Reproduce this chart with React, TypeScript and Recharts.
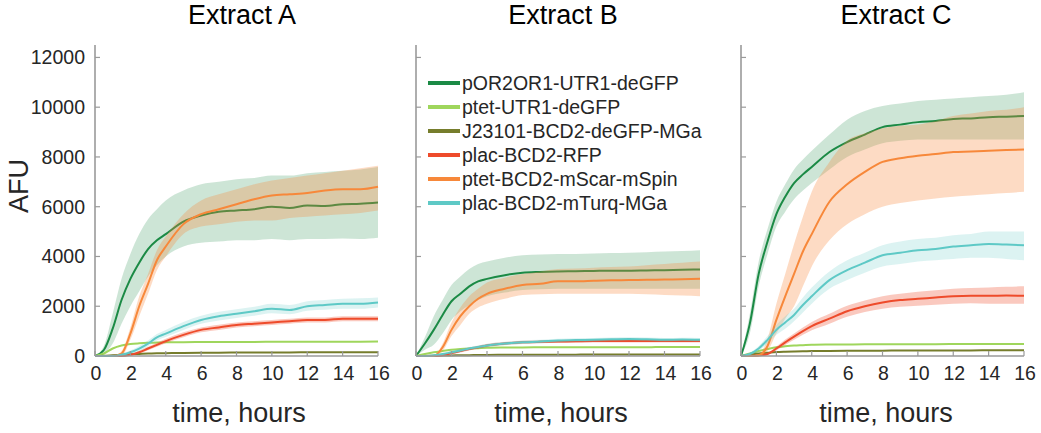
import React from 'react';
import { ComposedChart, Line, Area, XAxis, YAxis } from 'recharts';

const TIME = [0, 0.5, 1, 1.5, 2, 2.5, 3, 3.5, 4, 5, 6, 7, 8, 9, 10, 11, 12, 13, 14, 15, 16];
const X_TICKS = [0, 2, 4, 6, 8, 10, 12, 14, 16];
const Y_TICKS = [0, 2000, 4000, 6000, 8000, 10000, 12000];
const PANEL_TITLES = ['Extract A', 'Extract B', 'Extract C'];
const SERIES_NAMES = [
  'pOR2OR1-UTR1-deGFP',
  'ptet-UTR1-deGFP',
  'J23101-BCD2-deGFP-MGa',
  'plac-BCD2-RFP',
  'ptet-BCD2-mScar-mSpin',
  'plac-BCD2-mTurq-MGa',
];

// ---------- Extract A ----------
const A_POR = [0, 240, 1100, 2250, 3100, 3750, 4300, 4650, 4900, 5400, 5650, 5800, 5850, 5900, 6000, 5950, 6050, 6030, 6100, 6120, 6170];
const A_POR_LO = [0, 100, 500, 1300, 2000, 2600, 3200, 3650, 4000, 4400, 4550, 4600, 4650, 4650, 4700, 4650, 4700, 4700, 4720, 4700, 4750];
const A_POR_HI = [0, 400, 1700, 3100, 4100, 4900, 5500, 5900, 6250, 6650, 6900, 7000, 7100, 7150, 7250, 7250, 7350, 7400, 7450, 7500, 7600];
const A_PTET = [0, 100, 300, 420, 480, 510, 530, 540, 550, 555, 560, 560, 565, 565, 570, 570, 570, 575, 575, 575, 580];
const A_J231 = [0, 10, 30, 50, 70, 85, 100, 110, 115, 125, 130, 135, 140, 140, 145, 145, 150, 150, 150, 150, 150];
const A_RFP = [0, 0, 0, 0, 50, 150, 300, 450, 600, 850, 1050, 1150, 1250, 1300, 1350, 1400, 1450, 1450, 1500, 1500, 1500];
const A_RFP_LO = [0, 0, 0, 0, 20, 100, 230, 370, 510, 750, 950, 1050, 1150, 1200, 1250, 1300, 1350, 1350, 1400, 1400, 1400];
const A_RFP_HI = [0, 0, 0, 30, 90, 210, 370, 530, 690, 950, 1150, 1260, 1350, 1400, 1450, 1500, 1550, 1550, 1600, 1600, 1600];
const A_SCAR = [0, 0, 0, 100, 900, 2000, 2900, 3850, 4400, 5300, 5700, 5900, 6100, 6300, 6450, 6500, 6550, 6650, 6700, 6700, 6800];
const A_SCAR_LO = [0, 0, 0, 0, 650, 1600, 2500, 3450, 4000, 4900, 5200, 5300, 5400, 5450, 5450, 5550, 5600, 5650, 5700, 5750, 5850];
const A_SCAR_HI = [0, 0, 0, 200, 1150, 2400, 3300, 4250, 4800, 5700, 6250, 6500, 6700, 6900, 7050, 7150, 7250, 7350, 7450, 7550, 7650];
const A_TURQ = [0, 0, 0, 50, 150, 300, 500, 750, 900, 1200, 1450, 1600, 1700, 1800, 1900, 1850, 2000, 2050, 2100, 2100, 2150];
const A_TURQ_LO = [0, 0, 0, 0, 80, 200, 380, 620, 760, 1050, 1300, 1430, 1530, 1620, 1720, 1680, 1820, 1860, 1900, 1900, 1950];
const A_TURQ_HI = [0, 0, 0, 100, 220, 400, 620, 880, 1050, 1370, 1620, 1780, 1880, 1980, 2100, 2050, 2200, 2250, 2300, 2320, 2350];

// ---------- Extract B ----------
const B_POR = [0, 500, 1050, 1650, 2200, 2500, 2800, 3000, 3100, 3250, 3350, 3380, 3400, 3410, 3420, 3430, 3430, 3440, 3450, 3470, 3480];
const B_POR_LO = [0, 250, 450, 900, 1450, 1800, 2050, 2250, 2400, 2550, 2650, 2680, 2700, 2700, 2700, 2700, 2700, 2700, 2700, 2700, 2700];
const B_POR_HI = [0, 750, 1600, 2250, 2850, 3200, 3500, 3700, 3800, 3950, 4050, 4080, 4100, 4100, 4120, 4140, 4150, 4170, 4200, 4220, 4250];
const B_PTET = [0, 80, 150, 200, 250, 280, 300, 315, 330, 340, 345, 350, 350, 350, 355, 355, 355, 355, 360, 360, 360];
const B_J231 = [0, 5, 10, 20, 25, 30, 35, 40, 45, 50, 50, 55, 55, 55, 60, 60, 60, 60, 65, 65, 65];
const B_RFP = [0, 0, 0, 30, 120, 200, 280, 350, 420, 500, 550, 570, 580, 590, 600, 600, 600, 600, 600, 600, 600];
const B_RFP_LO = [0, 0, 0, 0, 70, 140, 220, 290, 360, 440, 490, 510, 520, 530, 540, 540, 540, 540, 540, 540, 540];
const B_RFP_HI = [0, 0, 0, 60, 170, 260, 340, 410, 480, 560, 610, 630, 640, 650, 660, 660, 660, 660, 660, 660, 660];
const B_SCAR = [0, 0, 0, 350, 1050, 1600, 2000, 2300, 2500, 2700, 2850, 2900, 3000, 3000, 3020, 3040, 3050, 3060, 3070, 3080, 3100];
const B_SCAR_LO = [0, 0, 0, 200, 800, 1250, 1700, 1950, 2100, 2300, 2450, 2480, 2500, 2500, 2500, 2500, 2500, 2480, 2450, 2430, 2400];
const B_SCAR_HI = [0, 0, 0, 500, 1350, 1950, 2400, 2700, 2950, 3150, 3300, 3400, 3500, 3520, 3550, 3580, 3600, 3650, 3700, 3750, 3800];
const B_TURQ = [0, 0, 30, 80, 150, 220, 300, 360, 420, 500, 550, 580, 620, 640, 650, 670, 680, 670, 650, 660, 650];
const B_TURQ_LO = [0, 0, 0, 30, 90, 160, 240, 300, 350, 430, 480, 510, 550, 570, 580, 600, 610, 600, 580, 590, 580];
const B_TURQ_HI = [0, 0, 60, 130, 210, 280, 360, 420, 490, 570, 620, 650, 690, 710, 720, 740, 750, 740, 720, 730, 720];

// ---------- Extract C ----------
const C_POR = [0, 1300, 3300, 4600, 5700, 6400, 6950, 7300, 7600, 8200, 8600, 8900, 9200, 9300, 9400, 9450, 9530, 9550, 9600, 9620, 9650];
const C_POR_LO = [0, 900, 2800, 4100, 5200, 5800, 6300, 6650, 6950, 7500, 8000, 8300, 8550, 8650, 8700, 8700, 8700, 8700, 8700, 8700, 8700];
const C_POR_HI = [0, 1700, 3800, 5100, 6200, 6900, 7500, 7900, 8250, 8900, 9500, 9850, 10050, 10150, 10250, 10300, 10350, 10400, 10450, 10500, 10600];
const C_PTET = [0, 100, 200, 280, 350, 390, 420, 435, 450, 460, 465, 470, 470, 475, 475, 475, 478, 478, 480, 480, 480];
const C_J231 = [0, 50, 100, 130, 160, 175, 185, 190, 200, 205, 210, 215, 215, 220, 220, 225, 225, 225, 230, 230, 230];
const C_RFP = [0, 0, 20, 80, 300, 550, 780, 1000, 1200, 1500, 1800, 2000, 2150, 2250, 2300, 2350, 2400, 2420, 2420, 2430, 2420];
const C_RFP_LO = [0, 0, 0, 40, 220, 440, 650, 850, 1030, 1300, 1580, 1770, 1900, 1980, 2020, 2060, 2100, 2120, 2100, 2100, 2100];
const C_RFP_HI = [0, 0, 40, 120, 380, 660, 900, 1150, 1370, 1700, 2020, 2230, 2400, 2500, 2580, 2640, 2700, 2730, 2750, 2780, 2800];
const C_SCAR = [0, 0, 30, 400, 1450, 2400, 3300, 4200, 4900, 6200, 6900, 7400, 7800, 7950, 8050, 8120, 8200, 8220, 8250, 8280, 8300];
const C_SCAR_LO = [0, 0, 0, 200, 900, 1500, 2000, 2800, 3600, 4650, 5300, 5700, 6000, 6150, 6250, 6330, 6400, 6450, 6500, 6550, 6600];
const C_SCAR_HI = [0, 0, 60, 700, 2100, 3300, 4500, 5600, 6600, 7800, 8650, 8950, 9150, 9250, 9300, 9450, 9650, 9750, 9850, 9900, 10000];
const C_TURQ = [0, 80, 300, 650, 1050, 1350, 1650, 2050, 2400, 3050, 3450, 3750, 4050, 4150, 4250, 4300, 4400, 4450, 4500, 4480, 4450];
const C_TURQ_LO = [0, 30, 200, 500, 850, 1100, 1400, 1750, 2100, 2700, 3050, 3350, 3600, 3700, 3800, 3850, 3900, 3950, 3950, 3900, 3850];
const C_TURQ_HI = [0, 130, 400, 800, 1250, 1600, 1900, 2350, 2750, 3400, 3850, 4150, 4450, 4600, 4700, 4750, 4850, 4900, 5000, 5000, 5000];

const COLORS = ['#1b8a45', '#9fd65c', '#767d2c', '#ee4b2b', '#f7883a', '#5ec9c6'];
const KEYS = ['por', 'ptet', 'j231', 'rfp', 'scar', 'turq'];
const BAND_OPACITY = [0.22, 0, 0, 0.3, 0.3, 0.22];

type Arr = number[];
function buildRows(
  por: Arr, porLo: Arr, porHi: Arr, ptet: Arr, j231: Arr,
  rfp: Arr, rfpLo: Arr, rfpHi: Arr, scar: Arr, scarLo: Arr, scarHi: Arr,
  turq: Arr, turqLo: Arr, turqHi: Arr
) {
  return TIME.map((t, i) => ({
    t,
    por: por[i], porBand: [porLo[i], porHi[i]],
    ptet: ptet[i],
    j231: j231[i],
    rfp: rfp[i], rfpBand: [rfpLo[i], rfpHi[i]],
    scar: scar[i], scarBand: [scarLo[i], scarHi[i]],
    turq: turq[i], turqBand: [turqLo[i], turqHi[i]],
  }));
}

const DATA_A = buildRows(A_POR, A_POR_LO, A_POR_HI, A_PTET, A_J231, A_RFP, A_RFP_LO, A_RFP_HI, A_SCAR, A_SCAR_LO, A_SCAR_HI, A_TURQ, A_TURQ_LO, A_TURQ_HI);
const DATA_B = buildRows(B_POR, B_POR_LO, B_POR_HI, B_PTET, B_J231, B_RFP, B_RFP_LO, B_RFP_HI, B_SCAR, B_SCAR_LO, B_SCAR_HI, B_TURQ, B_TURQ_LO, B_TURQ_HI);
const DATA_C = buildRows(C_POR, C_POR_LO, C_POR_HI, C_PTET, C_J231, C_RFP, C_RFP_LO, C_RFP_HI, C_SCAR, C_SCAR_LO, C_SCAR_HI, C_TURQ, C_TURQ_LO, C_TURQ_HI);

const FONT = '"Liberation Sans", Arial, Helvetica, sans-serif';
const AXIS_COLOR = '#9a9a9a';
const TEXT_COLOR = '#262626';

const YTick = (props: any) => {
  const { x, y, payload, showLabel } = props;
  return (
    <g>
      <line x1={x + 10} x2={x + 15} y1={y} y2={y} stroke={AXIS_COLOR} strokeWidth={1.2} />
      {showLabel && (
        <text x={x} y={y + 7} textAnchor="end" fontSize={19.5} fontFamily={FONT} fill={TEXT_COLOR}>
          {payload.value}
        </text>
      )}
    </g>
  );
};

const XTick = (props: any) => {
  const { x, y, payload } = props;
  return (
    <g>
      <line x1={x} x2={x} y1={y} y2={y - 5} stroke={AXIS_COLOR} strokeWidth={1.2} />
      <text x={x + 1} y={y + 24} textAnchor="middle" fontSize={19.5} fontFamily={FONT} fill={TEXT_COLOR}>
        {payload.value}
      </text>
    </g>
  );
};

function Panel({ data, left, width, yWidth, showYLabels }: any) {
  return (
    <div style={{ position: 'absolute', left, top: 0 }}>
      <ComposedChart width={width} height={433} data={data} margin={{ top: 45, right: 12, bottom: 47, left: 0 }}>
        <XAxis
          dataKey="t" type="number" domain={[0, 16]} ticks={X_TICKS} interval={0}
          height={30} tickSize={0} tickMargin={0} tickLine={false}
          axisLine={{ stroke: AXIS_COLOR, strokeWidth: 1.6 }}
          tick={(p: any) => <XTick {...p} />}
        />
        <YAxis
          type="number" domain={[0, 12500]} ticks={Y_TICKS} interval={0}
          width={yWidth} tickSize={0} tickMargin={10} tickLine={false}
          axisLine={{ stroke: AXIS_COLOR, strokeWidth: 1.6 }}
          tick={(p: any) => <YTick {...p} showLabel={showYLabels} />}
        />
        {KEYS.map((k, i) => {
          const items = [];
          if (BAND_OPACITY[i] > 0) {
            items.push(
              <Area
                key={k + 'band'} type="monotone" dataKey={k + 'Band'} stroke="none"
                fill={COLORS[i]} fillOpacity={BAND_OPACITY[i]} isAnimationActive={false}
                activeDot={false} legendType="none" zIndex={100 + 20 * i}
              />
            );
          }
          items.push(
            <Line
              key={k} type="monotone" dataKey={k} name={SERIES_NAMES[i]} stroke={COLORS[i]}
              strokeWidth={2} dot={false} activeDot={false} isAnimationActive={false}
              zIndex={110 + 20 * i}
            />
          );
          return items;
        })}
      </ComposedChart>
    </div>
  );
}

const TITLE_X = [242, 563, 896];
const XLABEL_X = [239, 561, 886];
const LEGEND_Y = [83, 107, 131, 155, 179, 203];

export default function App() {
  return (
    <div style={{ position: 'absolute', left: 0, top: 0, width: 1041, height: 433, background: '#fff', overflow: 'hidden' }}>
      <Panel data={DATA_A} left={0} width={390} yWidth={95} showYLabels={true} />
      <Panel data={DATA_B} left={406} width={306} yWidth={10} showYLabels={false} />
      <Panel data={DATA_C} left={731} width={305} yWidth={10} showYLabels={false} />
      <svg width={1041} height={433} style={{ position: 'absolute', left: 0, top: 0, pointerEvents: 'none' }}>
        {PANEL_TITLES.map((t, i) => (
          <text key={t} x={TITLE_X[i]} y={24} textAnchor="middle" fontSize={27} fontFamily={FONT} fill="#000">{t}</text>
        ))}
        {XLABEL_X.map((x, i) => (
          <text key={i} x={x} y={422} textAnchor="middle" fontSize={27} fontFamily={FONT} fill={TEXT_COLOR}>time, hours</text>
        ))}
        <text x={28} y={186} textAnchor="middle" fontSize={27} fontFamily={FONT} fill={TEXT_COLOR} transform="rotate(-90 28 186)">AFU</text>
        {SERIES_NAMES.map((n, i) => (
          <g key={n}>
            <line x1={428} x2={460} y1={LEGEND_Y[i]} y2={LEGEND_Y[i]} stroke={COLORS[i]} strokeWidth={4} />
            <text x={462} y={LEGEND_Y[i] + 6.5} fontSize={19.5} fontFamily={FONT} fill={TEXT_COLOR}>{n}</text>
          </g>
        ))}
      </svg>
    </div>
  );
}
